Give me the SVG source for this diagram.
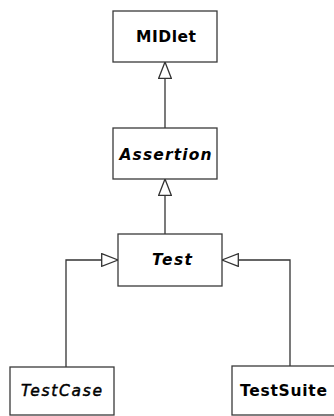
<svg xmlns="http://www.w3.org/2000/svg" width="334" height="416" viewBox="0 0 334 416">
<style>
.box{fill:#fff;stroke:#3a3a3a;stroke-width:1.3}
.lbl{font-family:"DejaVu Sans",Verdana,sans-serif;font-size:15.5px;fill:#000;text-anchor:middle}
.b{font-weight:bold}
.i{font-style:italic}
.m{stroke:#000;stroke-width:0.45}
.edge{fill:none;stroke:#333;stroke-width:1.3}
</style>
<defs>
<marker id="tri" markerUnits="userSpaceOnUse" viewBox="0 0 18 14" refX="17" refY="7" markerWidth="18" markerHeight="14" orient="auto">
<path d="M0.7,0.7 L17,7 L0.7,13.3 Z" fill="#fff" stroke="#333" stroke-width="1.3"/>
</marker>
</defs>
<g id="connectors">
<path class="edge" d="M165,128 V62" marker-end="url(#tri)"/>
<path class="edge" d="M165,234 V179" marker-end="url(#tri)"/>
<path class="edge" d="M66,367 V260 H118" marker-end="url(#tri)"/>
<path class="edge" d="M290,366 V260 H222" marker-end="url(#tri)"/>
</g>
<g id="MIDlet">
<rect class="box" x="113" y="11" width="104" height="51"/>
<text class="lbl b" x="166" y="42" textLength="60" lengthAdjust="spacing">MIDlet</text>
</g>
<g id="Assertion">
<rect class="box" x="113" y="128" width="104" height="51"/>
<text class="lbl b i" x="165.5" y="160" textLength="92" lengthAdjust="spacing">Assertion</text>
</g>
<g id="Test">
<rect class="box" x="118" y="234" width="104" height="52"/>
<text class="lbl b i" x="172" y="265" textLength="40" lengthAdjust="spacing">Test</text>
</g>
<g id="TestCase">
<rect class="box" x="10" y="367" width="104" height="48"/>
<text class="lbl i m" x="61.5" y="396" textLength="81" lengthAdjust="spacing">TestCase</text>
</g>
<g id="TestSuite">
<rect class="box" x="232" y="366" width="104" height="49"/>
<text class="lbl b" x="283.5" y="396" textLength="87" lengthAdjust="spacing">TestSuite</text>
</g>
</svg>
